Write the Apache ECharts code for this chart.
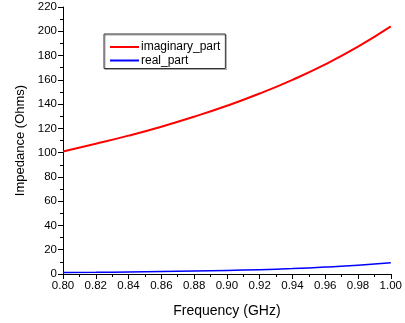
<!DOCTYPE html>
<html><head><meta charset="utf-8">
<script src="https://cdn.jsdelivr.net/npm/echarts@6/dist/echarts.min.js"></script>
<style>html,body{margin:0;padding:0;background:#fff}#c{width:405px;height:323px}</style>
</head><body><div id="c"></div>
<script>
const freq = [0.80, 0.82, 0.84, 0.86, 0.88, 0.90, 0.92, 0.94, 0.96, 0.98, 1.00];
const imaginaryPart = [101, 107.3, 114.0, 121.4, 129.6, 138.6, 148.7, 160.0, 172.7, 187.3, 204];
const realPart = [1.2, 1.4, 1.7, 2.0, 2.4, 2.9, 3.6, 4.5, 5.7, 7.2, 9.2];
const seriesNames = ['imaginary_part', 'real_part'];

const font = 'Liberation Sans, Arial, sans-serif';
const chart = echarts.init(document.getElementById('c'), null, {renderer: 'canvas'});
chart.setOption({
  animation: false,
  backgroundColor: '#fff',
  grid: {left: 63, right: 14, top: 7, bottom: 49},
  legend: {
    orient: 'vertical', left: 104, top: 34,
    data: seriesNames.map(n => ({name: n, icon: 'rect'})),
    itemWidth: 29, itemHeight: 2, itemGap: 1.5,
    padding: [7, 5, 2, 6],
    borderColor: '#333', borderWidth: 1,
    shadowColor: 'rgba(0,0,0,0.35)', shadowOffsetX: 1, shadowOffsetY: 1, shadowBlur: 0,
    textStyle: {fontFamily: font, fontSize: 12, color: '#000', padding: [0, 0, 0, -3]}
  },
  xAxis: {
    type: 'value', min: 0.8, max: 1.0, interval: 0.02,
    name: 'Frequency (GHz)', nameLocation: 'middle', nameGap: 30,
    nameTextStyle: {fontFamily: font, fontSize: 14, color: '#000'},
    axisLine: {lineStyle: {color: '#000', width: 1}},
    axisTick: {inside: false, length: 5, lineStyle: {color: '#000'}},
    minorTick: {show: true, splitNumber: 2, length: 3, lineStyle: {color: '#000'}},
    splitLine: {show: false},
    axisLabel: {fontFamily: font, fontSize: 11.5, color: '#000', margin: 6,
      formatter: v => v.toFixed(2)}
  },
  yAxis: {
    type: 'value', min: 0, max: 220, interval: 20,
    name: 'Impedance (Ohms)', nameLocation: 'middle', nameGap: 36,
    nameTextStyle: {fontFamily: font, fontSize: 13, color: '#000'},
    axisLine: {show: true, lineStyle: {color: '#000', width: 1}},
    axisTick: {show: true, length: 5, lineStyle: {color: '#000'}},
    minorTick: {show: true, splitNumber: 2, length: 3, lineStyle: {color: '#000'}},
    splitLine: {show: false},
    axisLabel: {fontFamily: font, fontSize: 11.5, color: '#000', margin: 6}
  },
  series: [
    {name: seriesNames[0], type: 'line', smooth: true, showSymbol: false,
     data: freq.map((f, i) => [f, imaginaryPart[i]]),
     itemStyle: {color: '#ff0000'}, lineStyle: {color: '#ff0000', width: 2}},
    {name: seriesNames[1], type: 'line', smooth: true, showSymbol: false,
     data: freq.map((f, i) => [f, realPart[i]]),
     itemStyle: {color: '#0000ff'}, lineStyle: {color: '#0000ff', width: 1.5}}
  ]
});
</script></body></html>
